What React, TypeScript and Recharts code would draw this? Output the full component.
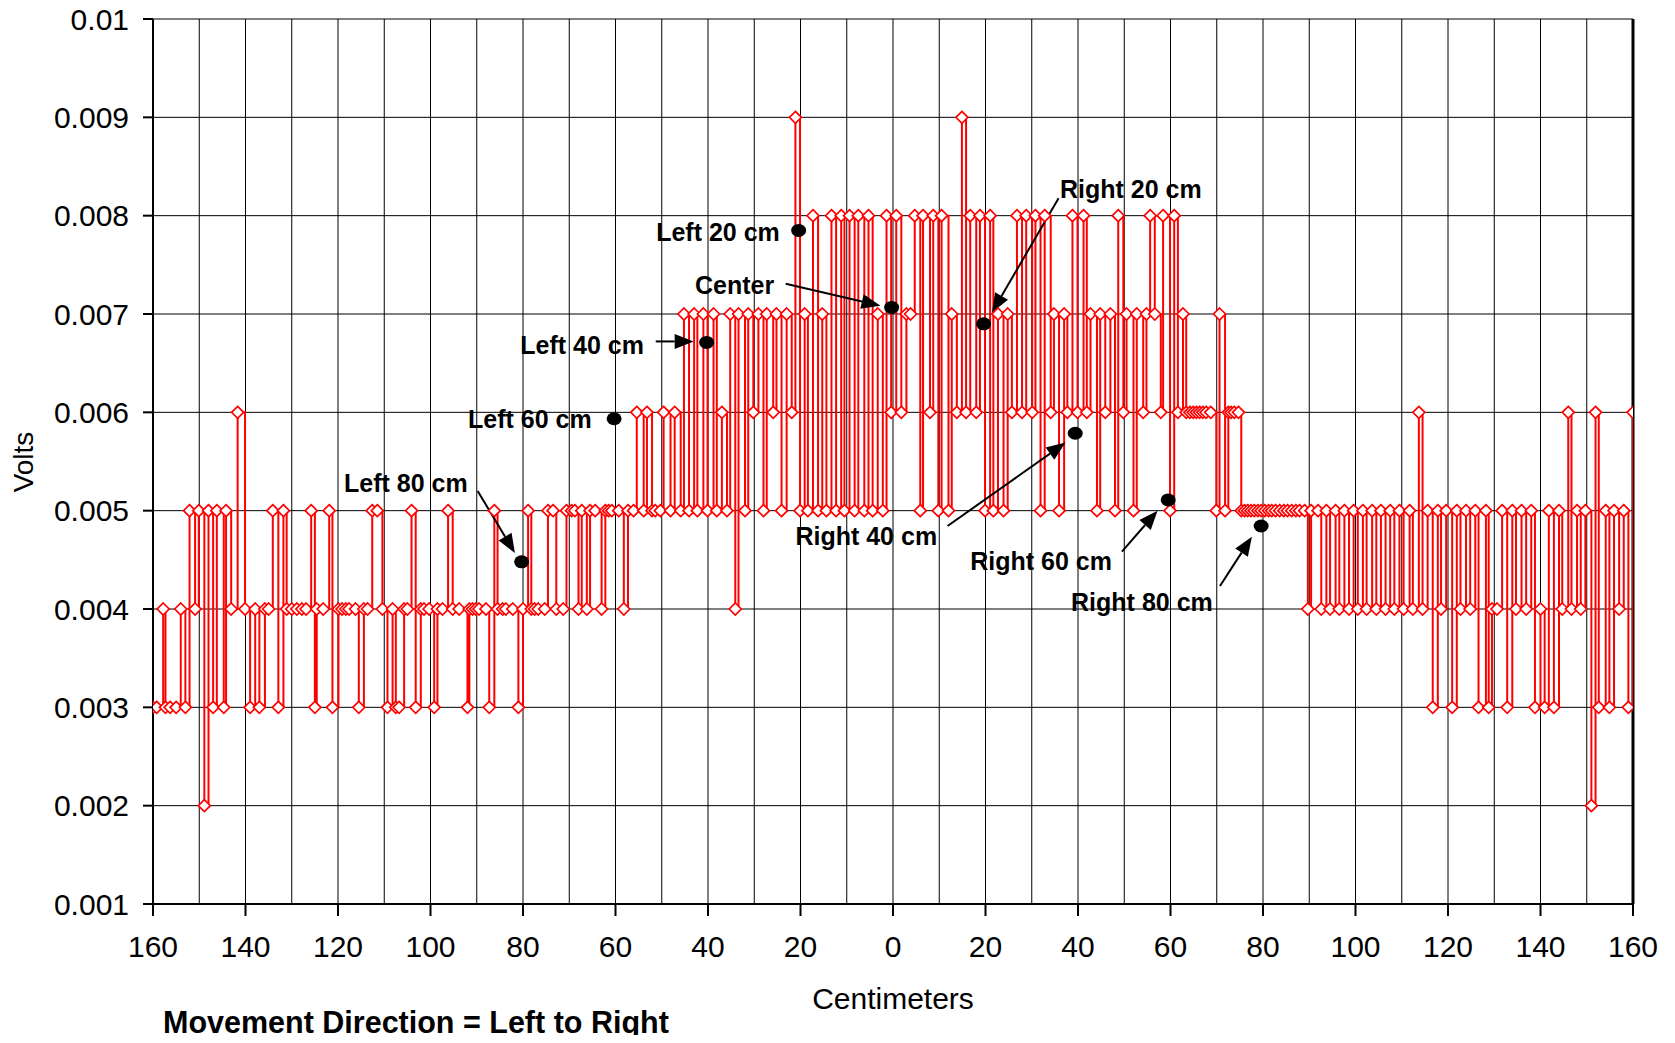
import React from 'react';
import { LineChart, Line, XAxis, YAxis, CartesianGrid, ReferenceLine, ReferenceDot } from 'recharts';

// ---- Data (x = centimeters, signed: negative = left of center; y = volts) ----
const leftFlank: [number, number][] = [
  [-160, 0.003], [-159.2, 0.003], [-157.8, 0.004], [-157.3, 0.003], [-156.3, 0.003], [-155, 0.003], [-154, 0.004], [-153, 0.003],
  [-152.1, 0.005], [-150.9, 0.004], [-150.1, 0.005], [-148.9, 0.002], [-148, 0.005], [-147, 0.003], [-146.2, 0.005], [-144.7, 0.003],
  [-144.2, 0.005], [-143.1, 0.004], [-141.7, 0.006], [-140.1, 0.004], [-139, 0.003], [-137.9, 0.004], [-137, 0.003], [-135.8, 0.004],
  [-135, 0.004], [-134.1, 0.005], [-132.9, 0.003], [-131.8, 0.005], [-131.1, 0.004], [-130, 0.004], [-128.9, 0.004], [-127.8, 0.004],
  [-126.9, 0.004], [-125.8, 0.005], [-125, 0.003], [-124.6, 0.004], [-123.2, 0.004], [-121.9, 0.005], [-121.2, 0.003], [-119.9, 0.004],
  [-119.1, 0.004], [-118.3, 0.004], [-117.6, 0.004], [-116.2, 0.004], [-115.5, 0.003], [-114.4, 0.004], [-113.6, 0.004], [-112.6, 0.005],
  [-111.5, 0.005], [-110.4, 0.004], [-109.3, 0.003], [-108.2, 0.004], [-107.5, 0.003], [-106.8, 0.003], [-105.7, 0.004], [-105, 0.004],
  [-104.1, 0.005], [-103.2, 0.003], [-102.1, 0.004], [-101.4, 0.004], [-100.3, 0.004], [-99.2, 0.003], [-98.5, 0.004], [-97.4, 0.004],
  [-96.2, 0.005], [-95.2, 0.004], [-93.8, 0.004], [-92, 0.003], [-91.6, 0.004], [-90.9, 0.004], [-90.2, 0.004], [-89.5, 0.004],
  [-88, 0.004], [-87.3, 0.003], [-86.2, 0.005], [-85.5, 0.004], [-84.4, 0.004], [-83.7, 0.004], [-82.2, 0.004], [-81, 0.003],
];

const leftRise: [number, number][] = [
  [-80, 0.004], [-78.9, 0.005], [-78.2, 0.004], [-77.5, 0.004], [-76.7, 0.004], [-75.3, 0.004], [-74.6, 0.005], [-73.5, 0.005],
  [-72.8, 0.004], [-71.3, 0.004], [-70.6, 0.005], [-69.5, 0.005], [-68.8, 0.005], [-68, 0.004], [-67.3, 0.005], [-66.2, 0.004],
  [-65.5, 0.005], [-64.4, 0.005], [-63, 0.004], [-62.2, 0.005], [-61.5, 0.005], [-60.8, 0.005], [-59.3, 0.005], [-58.2, 0.004],
  [-57.3, 0.005], [-56.1, 0.005], [-55.4, 0.006], [-53.9, 0.005], [-53.2, 0.006], [-52.1, 0.005], [-51.4, 0.005], [-50.3, 0.005],
  [-49.6, 0.006], [-48.1, 0.005], [-47.2, 0.006], [-45.9, 0.005], [-45.2, 0.007], [-44.1, 0.005], [-43, 0.007], [-42.3, 0.005],
  [-41, 0.007], [-40.1, 0.005],
];

const centerPeak: [number, number][] = [
  [-38.8, 0.007], [-38.1, 0.005], [-37, 0.006], [-35.9, 0.005], [-35.2, 0.007], [-34.1, 0.004], [-33.4, 0.007], [-32, 0.005],
  [-31.3, 0.007], [-30.2, 0.006], [-29.1, 0.007], [-28, 0.005], [-27.3, 0.007], [-25.9, 0.006], [-25.2, 0.007], [-24.1, 0.005],
  [-23, 0.007], [-21.9, 0.006], [-21.1, 0.009], [-20.1, 0.005], [-19.1, 0.007], [-18.4, 0.005], [-17.3, 0.008], [-16.2, 0.005],
  [-15.3, 0.007], [-14.4, 0.005], [-13.3, 0.008], [-12.3, 0.005], [-11.2, 0.008], [-10.5, 0.005], [-9.4, 0.008], [-8.3, 0.005],
  [-7.5, 0.008], [-6.2, 0.005], [-5.3, 0.008], [-4.4, 0.005], [-3.3, 0.007], [-2.2, 0.005], [-1.4, 0.008], [-0.4, 0.006],
  [0.7, 0.008], [1.8, 0.006], [2.9, 0.007], [3.8, 0.007], [4.7, 0.008], [5.9, 0.005], [6.5, 0.008], [8, 0.006],
  [8.7, 0.008], [9.8, 0.005], [10.5, 0.008], [12, 0.005], [12.7, 0.007], [13.8, 0.006], [14.9, 0.009], [15.8, 0.006],
  [16.7, 0.008], [18, 0.006], [18.8, 0.008], [19.9, 0.005], [21, 0.008], [21.7, 0.005], [22.7, 0.007], [23.9, 0.005],
  [24.8, 0.007], [25.7, 0.006], [26.8, 0.008], [27.9, 0.006], [28.8, 0.008], [30.1, 0.006], [30.8, 0.008], [31.9, 0.005],
  [32.8, 0.008], [34.1, 0.006], [34.8, 0.007], [35.9, 0.005], [37, 0.007], [37.7, 0.006], [38.8, 0.008], [39.9, 0.006],
];

const rightFall: [number, number][] = [
  [41.2, 0.008], [41.9, 0.006], [42.7, 0.007], [44.1, 0.005], [44.8, 0.007], [45.9, 0.006], [47, 0.007], [48, 0.005],
  [48.7, 0.008], [49.8, 0.006], [50.5, 0.007], [52, 0.005], [52.7, 0.007], [54.1, 0.006], [54.8, 0.007], [55.6, 0.008],
  [56.6, 0.007], [57.9, 0.006], [58.4, 0.008], [59.9, 0.005], [60.8, 0.008], [61.6, 0.006], [62.7, 0.007], [63.4, 0.006],
  [64.2, 0.006], [64.9, 0.006], [65.6, 0.006], [66.3, 0.006], [67, 0.006], [67.7, 0.006], [68.7, 0.006], [69.9, 0.005],
  [70.6, 0.007], [71.8, 0.005], [72.5, 0.006], [73.1, 0.006], [73.8, 0.006], [74.7, 0.006], [75.3, 0.005], [76, 0.005],
  [76.7, 0.005], [77.4, 0.005], [78.1, 0.005], [78.9, 0.005], [79.6, 0.005],
];

const rightFlank: [number, number][] = [
  [80.4, 0.005], [81.2, 0.005], [81.9, 0.005], [82.7, 0.005], [83.6, 0.005], [84.5, 0.005], [85.3, 0.005], [86.2, 0.005],
  [87.1, 0.005], [87.9, 0.005], [89, 0.005], [89.7, 0.004], [90.4, 0.005], [91.9, 0.005], [92.6, 0.004], [93.7, 0.005],
  [94.5, 0.004], [95.7, 0.005], [96.5, 0.004], [97.6, 0.005], [98.6, 0.004], [99.6, 0.005], [100.5, 0.004], [101.6, 0.005],
  [102.4, 0.004], [103.6, 0.005], [104.5, 0.004], [105.5, 0.005], [106.5, 0.004], [107.5, 0.005], [108.4, 0.004], [109.5, 0.005],
  [110.4, 0.004], [111.7, 0.005], [112.4, 0.004], [113.7, 0.006], [114.5, 0.004], [115.6, 0.005], [116.7, 0.003], [117.8, 0.005],
  [118.5, 0.004], [119.6, 0.005], [120.9, 0.003], [121.9, 0.005], [122.7, 0.004], [123.9, 0.005], [124.8, 0.004], [125.9, 0.005],
  [126.6, 0.003], [128.2, 0.005], [128.8, 0.003], [129.5, 0.004], [130.6, 0.004], [131.7, 0.005], [132.8, 0.003], [133.9, 0.005],
  [134.7, 0.004], [135.9, 0.005], [136.9, 0.004], [138, 0.005], [138.8, 0.003], [140, 0.004], [140.9, 0.003], [141.8, 0.005],
  [142.9, 0.003], [144, 0.005], [144.7, 0.004], [146, 0.006], [146.7, 0.004], [147.9, 0.005], [148.7, 0.004], [149.7, 0.005],
  [151, 0.002], [151.9, 0.006], [152.6, 0.003], [154.1, 0.005], [154.9, 0.003], [155.9, 0.005], [157, 0.004], [158, 0.005],
  [159, 0.003], [160, 0.006],
];

const xTicks = [-160, -140, -120, -100, -80, -60, -40, -20, 0, 20, 40, 60, 80, 100, 120, 140, 160];
const xGridValues = [-160, -150, -140, -130, -120, -110, -100, -90, -80, -70, -60, -50, -40, -30, -20, -10, 0,
  10, 20, 30, 40, 50, 60, 70, 80, 90, 100, 110, 120, 130, 140, 150, 160];
const yTicks = [0.001, 0.002, 0.003, 0.004, 0.005, 0.006, 0.007, 0.008, 0.009, 0.01];

// ---- Annotations (data coordinates) ----
const noteLabels = ['Left 20 cm', 'Center', 'Left 40 cm', 'Left 60 cm', 'Left 80 cm', 'Right 20 cm', 'Right 40 cm', 'Right 60 cm', 'Right 80 cm'];
const noteTextX = [-51.2, -42.8, -80.6, -91.9, -118.7, 36.1, -21.1, 16.7, 38.5];
const noteTextY = [0.007746, 0.007205, 0.006596, 0.005844, 0.005192, 0.008181, 0.004649, 0.004399, 0.003976];
const noteDotX = [-20.4, -0.3, -40.3, -60.3, -80.3, 19.6, 39.4, 59.5, 79.6];
const noteDotY = [0.00785, 0.007067, 0.006711, 0.005935, 0.00448, 0.0069, 0.005787, 0.005109, 0.004844];
const arrowFrom: ([number, number] | null)[] = [null, [-23.2, 0.007308], [-51.3, 0.006721], null, [-89.8, 0.0052], [35.8, 0.008177], [11.8, 0.004844], [49.5, 0.004583], [70.7, 0.004234]];
const arrowTo: ([number, number] | null)[] = [null, [-2.7, 0.007084], [-43.1, 0.006721], null, [-81.75, 0.00457], [21.4, 0.007016], [37.3, 0.005692], [57.2, 0.005], [77.6, 0.004736]];

const chartData = [...leftFlank, ...leftRise, ...centerPeak, ...rightFall, ...rightFlank].map(([x, v]) => ({ x, v }));

const FONT = '"Liberation Sans", Arial, Helvetica, sans-serif';

const Diamond = (props: any) => {
  const { cx, cy, index } = props;
  if (cx == null || cy == null) return <g key={`d-${index}`} />;
  const r = 6;
  return (
    <path
      key={`d-${index}`}
      d={`M${cx},${cy - r}L${cx + r},${cy}L${cx},${cy + r}L${cx - r},${cy}Z`}
      fill="#ffffff"
      stroke="#ff0000"
      strokeWidth={1.7}
    />
  );
};

const ArrowShape = (props: any) => {
  const { x1, y1, x2, y2 } = props;
  if ([x1, y1, x2, y2].some((v) => v == null || isNaN(v))) return <g />;
  const dx = x2 - x1;
  const dy = y2 - y1;
  const len = Math.hypot(dx, dy) || 1;
  const ux = dx / len;
  const uy = dy / len;
  const headL = 19;
  const headW = 7.5;
  const bx = x2 - ux * headL;
  const by = y2 - uy * headL;
  const px = -uy;
  const py = ux;
  return (
    <g>
      <line x1={x1} y1={y1} x2={bx} y2={by} stroke="#000" strokeWidth={2} />
      <polygon points={`${x2},${y2} ${bx + px * headW},${by + py * headW} ${bx - px * headW},${by - py * headW}`} fill="#000" />
    </g>
  );
};

const BlackDot = (props: any) => {
  const { cx, cy } = props;
  if (cx == null || cy == null) return <g />;
  return <ellipse cx={cx} cy={cy} rx={7.5} ry={6.5} fill="#000" />;
};

const makeTextShape = (text: string) => (props: any) => {
  const { cx, cy } = props;
  if (cx == null || cy == null) return <g />;
  return (
    <text x={cx} y={cy} textAnchor="start" fontFamily={FONT} fontWeight="bold" fontSize={25} fill="#000">
      {text}
    </text>
  );
};

export default function App() {
  const W = 1659;
  const H = 1028;
  return (
    <div style={{ position: 'relative', width: W, height: 1035, marginTop: -8, fontFamily: FONT, background: '#fff' }}>
      <LineChart
        width={W}
        height={H}
        data={chartData}
        margin={{ top: 19, right: 34, bottom: 0, left: 0 }}
        style={{ fontFamily: FONT }}
      >
        <CartesianGrid stroke="#000" strokeWidth={1} verticalValues={xGridValues} horizontalValues={yTicks} />
        <XAxis
          dataKey="x"
          type="number"
          domain={[-160, 160]}
          ticks={xTicks}
          interval={0}
          allowDataOverflow
          tickFormatter={(v: number) => String(Math.abs(v))}
          tick={{ fontSize: 30, fill: '#000', fontFamily: FONT }}
          tickSize={12}
          tickMargin={20}
          height={124}
          axisLine={{ stroke: '#000', strokeWidth: 2 }}
          tickLine={{ stroke: '#000', strokeWidth: 2 }}
        />
        <YAxis
          type="number"
          domain={[0.001, 0.01]}
          ticks={yTicks}
          interval={0}
          allowDataOverflow
          width={145}
          tick={{ fontSize: 30, fill: '#000', fontFamily: FONT }}
          tickSize={10}
          tickMargin={14}
          axisLine={{ stroke: '#000', strokeWidth: 2 }}
          tickLine={{ stroke: '#000', strokeWidth: 2 }}
        />
        <ReferenceLine x={160} stroke="#000" strokeWidth={3} />
        <Line
          type="stepAfter"
          dataKey="v"
          stroke="#ff0000"
          strokeWidth={2}
          dot={Diamond}
          activeDot={false}
          isAnimationActive={false}
        />
        {noteLabels.map((label, i) => {
          const from = arrowFrom[i];
          const to = arrowTo[i];
          if (!from || !to) return null;
          return (
            <ReferenceLine
              key={`arrow-${i}`}
              segment={[{ x: from[0], y: from[1] }, { x: to[0], y: to[1] }]}
              shape={ArrowShape}
              ifOverflow="visible"
            />
          );
        })}
        {noteLabels.map((label, i) => (
          <ReferenceDot key={`dot-${i}`} x={noteDotX[i]} y={noteDotY[i]} r={7} shape={BlackDot} ifOverflow="visible" />
        ))}
        {noteLabels.map((label, i) => (
          <ReferenceDot key={`txt-${i}`} x={noteTextX[i]} y={noteTextY[i]} r={1} shape={makeTextShape(label)} ifOverflow="visible" />
        ))}
      </LineChart>
      <div
        style={{
          position: 'absolute', left: 15.5, top: 461.5, transform: 'translate(-50%, -50%) rotate(-90deg)',
          fontSize: 28, lineHeight: 1, whiteSpace: 'nowrap', color: '#000',
        }}
      >
        Volts
      </div>
      <div
        style={{
          position: 'absolute', left: 885, top: 999, transform: 'translate(-50%, -50%)',
          fontSize: 30, lineHeight: 1, whiteSpace: 'nowrap', color: '#000',
        }}
      >
        Centimeters
      </div>
      <div
        style={{
          position: 'absolute', left: 155, top: 1022, transform: 'translateY(-50%)',
          fontSize: 30.5, fontWeight: 'bold', lineHeight: 1, whiteSpace: 'nowrap', color: '#000',
        }}
      >
        Movement Direction = Left to Right
      </div>
    </div>
  );
}
